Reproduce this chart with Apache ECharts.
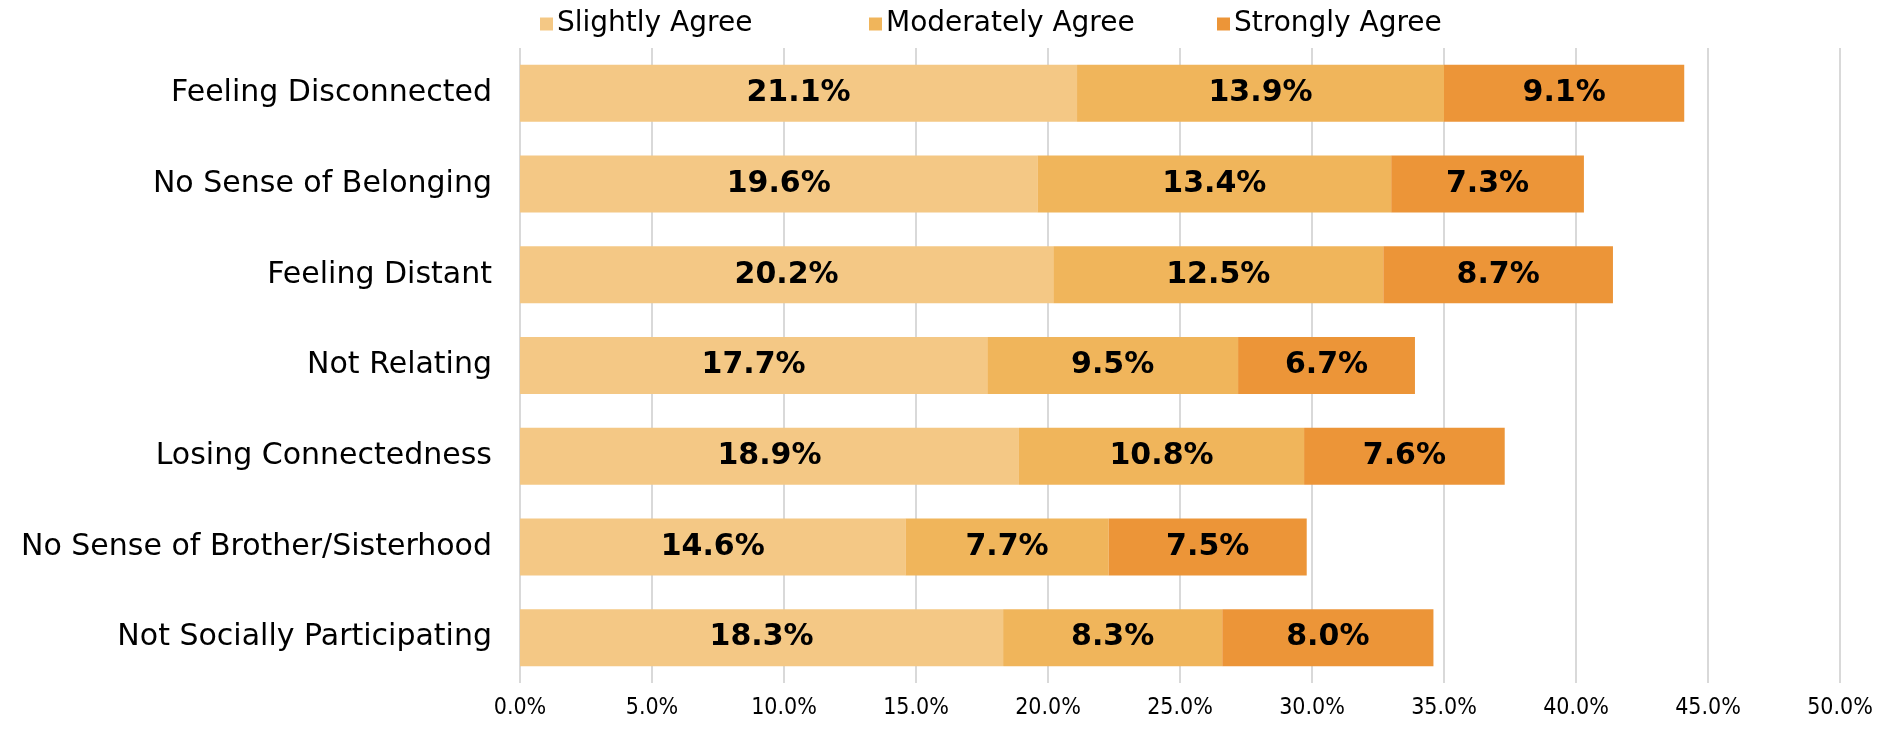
<!DOCTYPE html>
<html>
<head>
<meta charset="utf-8">
<script src="https://cdn.jsdelivr.net/npm/echarts@6/dist/echarts.min.js"></script>
<style>
    html, body {margin: 0; padding: 0; background: #fff;}
    #chart {width: 1896px; height: 730px;}
</style>
</head>
<body>
<div id="chart"></div>
<script>
// categories top to bottom
var categories = ["Feeling Disconnected", "No Sense of Belonging", "Feeling Distant", "Not Relating",
    "Losing Connectedness", "No Sense of Brother/Sisterhood", "Not Socially Participating"];
var slightlyAgree = [21.1, 19.6, 20.2, 17.7, 18.9, 14.6, 18.3];
var moderatelyAgree = [13.9, 13.4, 12.5, 9.5, 10.8, 7.7, 8.3];
var stronglyAgree = [9.1, 7.3, 8.7, 6.7, 7.6, 7.5, 8.0];
var seriesNames = ["Slightly Agree", "Moderately Agree", "Strongly Agree"];
var colors = ["#F4C885", "#F0B55B", "#EC9538"];

var font = "DejaVu Sans";
var legendLefts = [535, 864, 1212];

function makeSeries(name, data, color) {
    return {
        name: name,
        type: 'bar',
        stack: 'total',
        barWidth: 57,
        itemStyle: {color: color},
        label: {
            show: true,
            position: 'inside',
            color: '#000',
            fontWeight: 'bold',
            fontFamily: font,
            fontSize: 30,
            formatter: function (p) {
                return p.value.toFixed(1) + '%';
            }
        },
        data: data
    };
}

// one legend box per series so each sits where the original has it
let legends = [];
for (let i = 0; i < seriesNames.length; i++) {
    legends.push({
        top: 5,
        left: legendLefts[i],
        itemWidth: 13,
        itemHeight: 13,
        icon: 'rect',
        textStyle: {fontFamily: font, fontSize: 28, color: '#000', padding: [0, 0, 0, -1]},
        data: [seriesNames[i]]
    });
}

var myChart = echarts.init(document.getElementById('chart'));
var option = {
    animation: false,
    legend: legends,
    grid: {left: 520, right: 56, top: 48, bottom: 47},
    xAxis: {
        type: 'value',
        min: 0,
        max: 50,
        interval: 5,
        axisLine: {show: false},
        axisTick: {show: false},
        splitLine: {lineStyle: {color: '#D9D9D9', width: 2}},
        axisLabel: {
            margin: 14,
            fontFamily: 'DejaVu Sans Condensed',
            fontSize: 23,
            color: '#000',
            formatter: function (v) {
                return v.toFixed(1) + '%';
            }
        }
    },
    yAxis: {
        type: 'category',
        inverse: true,
        data: categories,
        axisLine: {show: false},
        axisTick: {show: false},
        axisLabel: {margin: 28, fontFamily: font, fontSize: 30, color: '#000'}
    },
    series: [
        makeSeries(seriesNames[0], slightlyAgree, colors[0]),
        makeSeries(seriesNames[1], moderatelyAgree, colors[1]),
        makeSeries(seriesNames[2], stronglyAgree, colors[2])
    ]
};
myChart.setOption(option);
</script>
</body>
</html>
